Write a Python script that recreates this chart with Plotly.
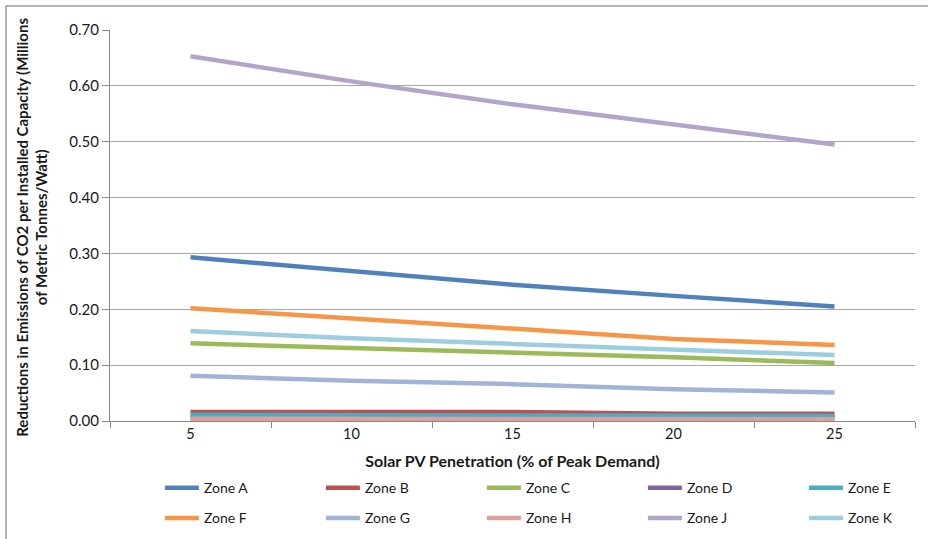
import plotly.graph_objects as go

# Solar PV penetration levels (% of peak demand)
penetration = ["5", "10", "15", "20", "25"]

# CO2 emission reductions per installed capacity (millions of metric tonnes / watt)
zone_a = [0.293, 0.269, 0.244, 0.224, 0.205]
zone_b = [0.016, 0.016, 0.016, 0.013, 0.013]
zone_c = [0.139, 0.131, 0.123, 0.114, 0.104]
zone_d = [0.006, 0.006, 0.006, 0.005, 0.005]
zone_e = [0.011, 0.011, 0.011, 0.009, 0.009]
zone_f = [0.202, 0.184, 0.164, 0.147, 0.136]
zone_g = [0.081, 0.072, 0.066, 0.057, 0.051]
zone_h = [0.004, 0.004, 0.004, 0.003, 0.003]
zone_j = [0.653, 0.608, 0.567, 0.531, 0.495]
zone_k = [0.161, 0.148, 0.138, 0.127, 0.118]

zone_names = ["Zone A", "Zone B", "Zone C", "Zone D", "Zone E",
              "Zone F", "Zone G", "Zone H", "Zone J", "Zone K"]
zone_values = [zone_a, zone_b, zone_c, zone_d, zone_e,
               zone_f, zone_g, zone_h, zone_j, zone_k]
zone_colors = ["#4F81BD", "#C0504D", "#9BBB59", "#8064A2", "#4BACC6",
               "#F79646", "#A1B4D8", "#DDA09D", "#B3A5C9", "#9DCEDF"]

FONT = "Lato, 'Open Sans', sans-serif"
TEXT = "#1a1a1a"

fig = go.Figure()
for i, (name, vals, col) in enumerate(zip(zone_names, zone_values, zone_colors)):
    fig.add_trace(go.Scatter(
        x=penetration, y=vals, name=name, mode="lines",
        line=dict(color=col, width=4.5),
        legend="legend" if i < 5 else "legend2",
    ))

# one legend per row of five zones
legend_common = dict(
    orientation="h", xanchor="left", yanchor="middle",
    font=dict(family=FONT, size=14, color=TEXT),
    entrywidth=112, entrywidthmode="pixels",
    itemwidth=34, bgcolor="rgba(0,0,0,0)",
    traceorder="normal",
)

fig.update_layout(
    width=928, height=539,
    margin=dict(l=110, r=13, t=30, b=118, autoexpand=False),
    paper_bgcolor="white", plot_bgcolor="white",
    font=dict(family=FONT, size=14, color=TEXT),
    showlegend=True,
    legend=dict(x=0.062, y=-0.172, **legend_common),
    legend2=dict(x=0.062, y=-0.249, **legend_common),
    xaxis=dict(
        type="category", range=[-0.5, 4.5],
        tickson="boundaries", ticks="outside",
        ticklen=6, tickcolor="#888888",
        showline=True, linecolor="#888888", linewidth=1,
        showgrid=False, zeroline=False,
        tickfont=dict(family=FONT, size=14.5, color=TEXT),
        title=dict(text="<b>Solar PV Penetration (% of Peak Demand)</b>",
                   font=dict(family=FONT, size=16, color=TEXT), standoff=14),
    ),
    yaxis=dict(
        range=[0, 0.70], tick0=0, dtick=0.1, tickformat=".2f",
        ticks="outside", ticklen=7, tickcolor="#888888",
        showline=True, linecolor="#888888", linewidth=1,
        showgrid=True, gridcolor="#A8A8A8", gridwidth=1,
        zeroline=False,
        tickfont=dict(family=FONT, size=15, color=TEXT),
    ),
    annotations=[dict(
        text="<b>Reductions in Emissions of CO2 per Installed Capacity (Millions<br>of Metric Tonnes/Watt)</b>",
        xref="paper", yref="paper", x=-0.0965, y=0.495,
        xanchor="center", yanchor="middle", textangle=-90,
        showarrow=False, font=dict(family=FONT, size=15, color=TEXT),
    )],
    shapes=[dict(
        type="rect", xref="paper", yref="paper",
        x0=-0.1292, x1=1.08, y0=-0.45, y1=1.0614,
        line=dict(color="#9A9A9A", width=1.5), layer="below",
    )],
)

fig.write_html("out.html")
